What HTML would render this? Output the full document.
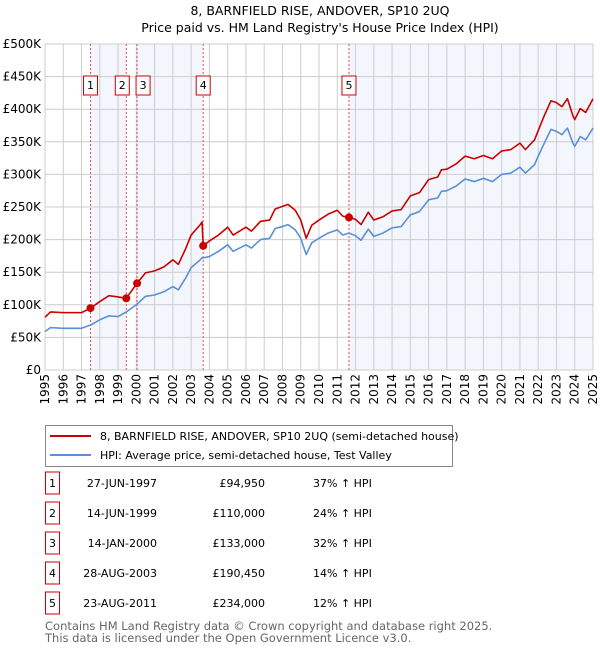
<!DOCTYPE html>
<html><head><meta charset="utf-8"><style>
body{margin:0;background:#fff;font-family:"Liberation Sans","DejaVu Sans",sans-serif;}
svg text{font-family:"DejaVu Sans","Liberation Sans",sans-serif;}
</style></head><body>
<svg id="c" width="600" height="650" xmlns="http://www.w3.org/2000/svg">
<text x="320" y="15" font-size="12.5" text-anchor="middle">8, BARNFIELD RISE, ANDOVER, SP10 2UQ</text>
<text x="320" y="32" font-size="12.5" text-anchor="middle">Price paid vs. HM Land Registry's House Price Index (HPI)</text>
<g id="plot"></g>
<g>
<rect x="45.5" y="425.5" width="407" height="41" fill="#fff" stroke="#888"/>
<line x1="50" y1="436" x2="91" y2="436" stroke="#cc0000" stroke-width="2"/>
<text x="100" y="440" font-size="11">8, BARNFIELD RISE, ANDOVER, SP10 2UQ (semi-detached house)</text>
<line x1="50" y1="455" x2="91" y2="455" stroke="#5b8fd6" stroke-width="2"/>
<text x="100" y="459" font-size="11">HPI: Average price, semi-detached house, Test Valley</text>
</g>
<g id="table"></g>
<text x="45" y="630" font-size="11.5" fill="#666">Contains HM Land Registry data © Crown copyright and database right 2025.</text>
<text x="45" y="642" font-size="11.5" fill="#666">This data is licensed under the Open Government Licence v3.0.</text>
</svg>
<script>
const times=[1995,1995.3,1996,1997,1997.5,1998,1998.5,1999,1999.45,1999.5,2000.04,2000.5,2001,2001.5,2002,2002.3,2002.7,2003,2003.5,2003.6,2003.66,2004,2004.5,2005,2005.3,2006,2006.3,2006.8,2007.3,2007.6,2008,2008.3,2008.7,2009,2009.3,2009.6,2010,2010.5,2011,2011.3,2011.64,2012,2012.3,2012.7,2013,2013.5,2014,2014.5,2015,2015.5,2016,2016.5,2016.7,2017,2017.5,2018,2018.5,2019,2019.5,2020,2020.5,2021,2021.3,2021.8,2022,2022.3,2022.7,2023,2023.3,2023.6,2023.9,2024,2024.3,2024.6,2025];
const hpiValues=[59,65,64,64,69,77,83,82,89,90,101,113,115,120,128,123,141,157,169,172,172,174,182,192,182,192,187,200,202,217,220,223,215,202,177,195,202,210,215,207,210,206,199,216,205,210,218,220,238,243,261,264,274,275,282,293,289,294,289,300,302,311,302,315,328,346,369,366,361,371,348,343,358,353,371];
const propertyValues=[81,89,88,88,95,105,114,112,110,112,133,149,152,158,169,162,186,207,223,227,190,198,207,219,207,219,213,228,230,247,251,254,245,230,202,222,230,239,245,236,234,231,223,242,230,235,244,246,267,272,292,296,307,308,316,328,324,329,324,336,338,348,338,353,367,388,413,410,404,416,390,384,401,395,416];
const saleDates=[1997.49,1999.45,2000.04,2003.66,2011.64];
const salePrices=[94950,110000,133000,190450,234000];
const saleLabels=["1","2","3","4","5"];
const saleDateText=["27-JUN-1997","14-JUN-1999","14-JAN-2000","28-AUG-2003","23-AUG-2011"];
const salePriceText=["£94,950","£110,000","£133,000","£190,450","£234,000"];
const saleHpiText=["37% ↑ HPI","24% ↑ HPI","32% ↑ HPI","14% ↑ HPI","12% ↑ HPI"];
const yTicks=[0,50,100,150,200,250,300,350,400,450,500];
const yTickLabels=["£0","£50K","£100K","£150K","£200K","£250K","£300K","£350K","£400K","£450K","£500K"];
const years=[];for(let y=1995;y<=2025;y++)years.push(y);

const X0=45,X1=593,Y0=370,Y1=44;
const xs=t=>X0+(t-1995)/30*(X1-X0);
const ys=v=>Y0-v/500*(Y0-Y1);
const NS="http://www.w3.org/2000/svg";
const plot=document.getElementById('plot');
function mk(tag,attrs,parent){const e=document.createElementNS(NS,tag);for(const k in attrs)e.setAttribute(k,attrs[k]);(parent||plot).appendChild(e);return e;}
// shaded bands
const bandEdges=[saleDates[0],saleDates[1],saleDates[2],saleDates[3],saleDates[4],2025];
for(let i=0;i<bandEdges.length-1;i+=2){
  const r=mk('rect',{x:xs(bandEdges[i]),y:Y1,width:xs(bandEdges[i+1])-xs(bandEdges[i]),height:Y0-Y1,fill:'#eef3fc',opacity:0.7});
  
  
}
// grid
years.forEach(y=>{const l=mk('line',{x1:xs(y),x2:xs(y),y1:Y1,y2:Y0,stroke:'#cccccc','stroke-width':1});
  
  
  const t=mk('text',{x:0,y:0,'font-size':12,'text-anchor':'end',transform:`translate(${xs(y)+4},${Y0+4}) rotate(-90)`});
  t.textContent=y;
  
  
});
yTicks.forEach((v,i)=>{const l=mk('line',{x1:X0,x2:X1,y1:ys(v),y2:ys(v),stroke:'#cccccc','stroke-width':1});
  
  
  const t=mk('text',{x:X0-4,y:ys(v)+4,'font-size':12,'text-anchor':'end'});
  t.textContent=yTickLabels[i];
  
  
});
// sale markers
saleDates.forEach((d,i)=>{
  const l=mk('line',{x1:xs(d),x2:xs(d),y1:Y1,y2:Y0,stroke:'#e05050','stroke-width':1,'stroke-dasharray':'2,2'});
  
  
  let bx=xs(d)-7; if(i===1)bx=xs(d)-11; if(i===2)bx=xs(d)-1;
  const b=mk('rect',{x:bx,y:76,width:14,height:19,fill:'#fff',stroke:'#cc0000'});
  
  
  const t=mk('text',{x:bx+7,y:89,'font-size':11,'text-anchor':'middle'});
  t.textContent=saleLabels[i];
  
  
});
function line(vals,color,name){
  const p=mk('polyline',{points:times.map((t,i)=>xs(t)+','+ys(vals[i])).join(' '),fill:'none',stroke:color,'stroke-width':1.6,'stroke-linejoin':'round'});
  
  
}
line(hpiValues,'#5b8fd6','hpi-line');
line(propertyValues,'#cc0000','property-price-line');
saleDates.forEach((d,i)=>{
  const c=mk('circle',{cx:xs(d),cy:ys(salePrices[i]/1000),r:4,fill:'#cc0000'});
  
  
});
// table
const tbl=document.getElementById('table');
saleDates.forEach((d,i)=>{
  const y=482+i*30;
  const b=mk('rect',{x:45.5,y:y-10,width:14,height:22,fill:'#fff',stroke:'#cc0000'},tbl);
  
  
  const cells=[[52.5,saleLabels[i],'middle'],[157,saleDateText[i],'end'],[265,salePriceText[i],'end'],[313,saleHpiText[i],'start']];
  cells.forEach(c=>{const t=mk('text',{x:c[0],y:y+5,'font-size':11,'text-anchor':c[2]},tbl);
    t.textContent=c[1];
    
    
  });
});
</script>
</body></html>
